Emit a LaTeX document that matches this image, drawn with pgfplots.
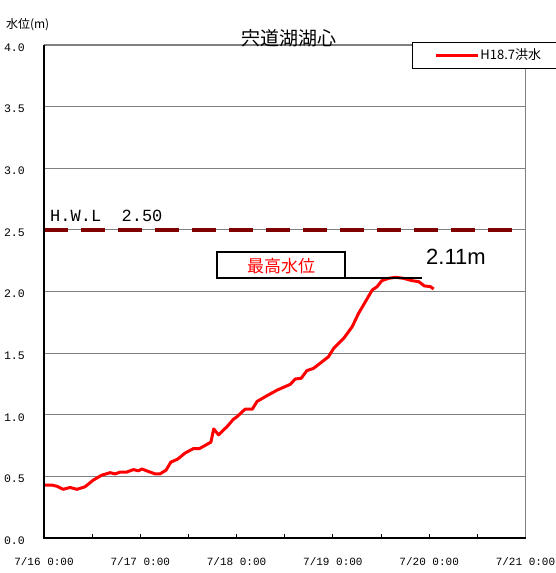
\documentclass[border=0pt]{standalone}
\usepackage{fontspec}
\setmainfont{Noto Sans CJK JP}
\newfontfamily\monof{Liberation Mono}
\newfontfamily\arialf{Liberation Sans}
\usepackage{pgfplots}
\pgfplotsset{compat=1.18}
\definecolor{hwl}{RGB}{128,0,0}
\definecolor{gridgray}{RGB}{128,128,128}
\begin{document}
\begin{tikzpicture}
\useasboundingbox (-44pt,-35pt) rectangle (511pt,538pt);
\begin{axis}[
  anchor=south west, at={(0pt,0pt)},
  scale only axis, width=481.5pt, height=493pt,
  xmin=0, xmax=120, ymin=0, ymax=4,
  clip=false,
  axis line style={draw=none},
  xtick={0,24,48,72,96,120},
  xticklabels={7/16 0:00,7/17 0:00,7/18 0:00,7/19 0:00,7/20 0:00,7/21 0:00},
  minor xtick={12,36,60,84,108},
  ytick={0,0.5,1,1.5,2,2.5,3,3.5,4},
  xtick pos=lower, ytick pos=left,
  tick align=inside,
  major tick length=4pt, minor tick length=4pt,
  xtick style={black, line width=0.9pt},
  minor tick style={black, line width=0.9pt},
  ytick style={draw=none},
  ymajorgrids, grid style={gridgray, line width=1.2pt},
  /pgf/number format/assume math mode=true,
  yticklabel style={font=\monof\fontsize{11.5}{11.5}\selectfont, anchor=east, inner sep=0pt, xshift=-19pt, yshift=-2.5pt,
    /pgf/number format/.cd, fixed, fixed zerofill, precision=1},
  xticklabel style={font=\monof\fontsize{11}{11}\selectfont, anchor=center, inner sep=0pt, yshift=-24pt},
  legend style={at={(0.7643,1.0061)}, anchor=north west, draw=black, line width=0.9pt,
    inner xsep=22pt, inner ysep=6.5pt, font=\fontsize{13}{13}\selectfont,
    nodes={inner sep=1pt, text height=9.5pt, text depth=2pt, text width=100pt}},
  legend image code/.code={\draw[#1] (0pt,0pt) -- (42pt,0pt);},
  after end axis/.code={
    \draw[gridgray, line width=1.2pt] (rel axis cs:1,0) -- (rel axis cs:1,1);
    \draw[black, line width=1.3pt] (rel axis cs:0,1) -- (rel axis cs:0,0) -- (rel axis cs:1,0);
  },
]
\addplot[hwl, line width=3.5pt, dash pattern=on 24pt off 13pt, forget plot] coordinates {(0,2.5) (116.7,2.5)};
\addplot[red, line width=3pt, line join=round] coordinates {
(0.3,0.43) (1.9,0.43) (3.2,0.42) (4.8,0.395) (6.5,0.41) (8.2,0.395) (10.2,0.415)
(12.3,0.47) (14.4,0.51) (16.5,0.53) (17.7,0.52) (19.0,0.535) (20.6,0.535) (22.3,0.555)
(23.5,0.545) (24.4,0.56) (26.0,0.54) (27.7,0.52) (28.9,0.52) (30.4,0.55) (31.6,0.615)
(33.3,0.64) (35.2,0.69) (37.2,0.725) (38.7,0.725) (40.2,0.752) (41.6,0.778) (42.3,0.885)
(43.5,0.837) (45.6,0.903) (47.2,0.963) (48.1,0.984) (50.1,1.045) (51.9,1.045) (53.1,1.108)
(55.6,1.155) (58.1,1.2) (61.4,1.247) (62.6,1.29) (64.1,1.296) (65.5,1.358) (67.2,1.377)
(69.3,1.43) (70.9,1.471) (72.2,1.539) (74.7,1.62) (76.8,1.714) (78.4,1.823) (80.1,1.917)
(81.8,2.012) (83.0,2.039) (84.2,2.088) (85.9,2.107) (87.6,2.115) (89.6,2.107) (91.7,2.088)
(93.4,2.08) (94.8,2.045) (96.3,2.04) (97.1,2.02)
};
\addlegendentry{H18.7洪水}
% annotations
\node[anchor=base west, inner sep=0pt, font=\monof\fontsize{17}{17}\selectfont] at (axis cs:1.5,2.564) {H.W.L\ \ 2.50};
\draw[black, line width=1.2pt] (axis cs:43.1,2.11) rectangle (axis cs:75.0,2.321);
\draw[black, line width=1.2pt] (axis cs:75.0,2.11) -- (axis cs:94.2,2.11);
\node[red, anchor=center, inner sep=0pt, font=\fontsize{17}{17}\selectfont] at (axis cs:59.1,2.205) {最高水位};
\node[anchor=base west, inner sep=0pt, font=\arialf\fontsize{22}{22}\selectfont] at (axis cs:95.2,2.215) {2.11m};
\node[anchor=center, inner sep=0pt, font=\fontsize{19}{19}\selectfont] at (axis cs:61.1,4.057) {宍道湖湖心};
\node[anchor=base west, inner sep=0pt, font=\fontsize{12}{12}\selectfont] at (axis cs:-9.5,4.13) {水位(m)};
\end{axis}
\end{tikzpicture}
\end{document}
